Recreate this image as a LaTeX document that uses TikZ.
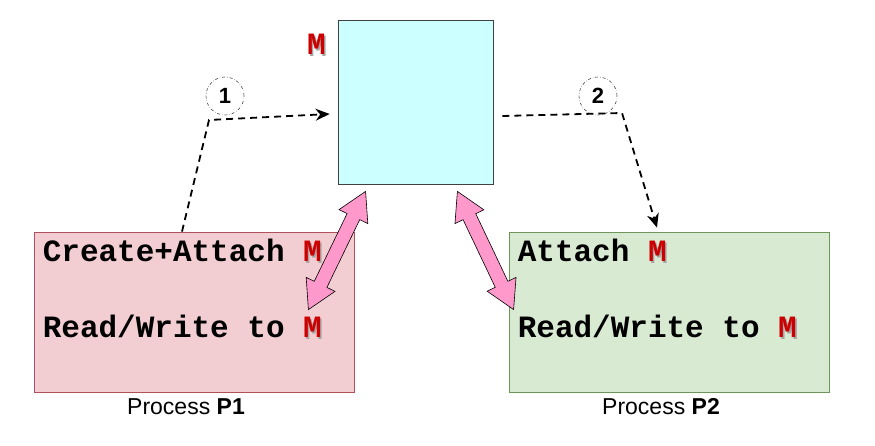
\documentclass[tikz,border=0pt]{standalone}
\usepackage{fontspec}
\setmonofont{Liberation Mono}
\setsansfont{Liberation Sans}
\usetikzlibrary{positioning,calc,arrows.meta}
\definecolor{shmfill}{RGB}{204,255,255}
\definecolor{ponefill}{RGB}{242,206,210}
\definecolor{poneline}{RGB}{176,80,90}
\definecolor{ptwofill}{RGB}{217,234,211}
\definecolor{ptwoline}{RGB}{110,150,90}
\definecolor{fatpink}{RGB}{255,153,204}
\definecolor{mred}{RGB}{204,0,0}
% red M with a grey drop shadow
\newcommand{\shmM}{\rlap{\kern1.5pt\raisebox{-1.5pt}{\textcolor{black!35}{M}}}\textcolor{mred}{M}}
% fat two-headed arrow between two named points
\newcommand{\fatarrow}[2]{%
  \filldraw[fatarrow] (#1) -- ($(#1)!28pt!(#2)!16pt!90:(#2)$) -- ($(#1)!28pt!(#2)!7pt!90:(#2)$)
    -- ($(#2)!28pt!(#1)!7pt!-90:(#1)$) -- ($(#2)!28pt!(#1)!16pt!-90:(#1)$) -- (#2)
    -- ($(#2)!28pt!(#1)!16pt!90:(#1)$) -- ($(#2)!28pt!(#1)!7pt!90:(#1)$)
    -- ($(#1)!28pt!(#2)!7pt!-90:(#2)$) -- ($(#1)!28pt!(#2)!16pt!-90:(#2)$) -- cycle;}
\begin{document}
\begin{tikzpicture}[x=1pt,y=-1pt]
	\tikzstyle{shmbox} = [draw=black!75, fill=shmfill, rectangle, minimum width=155pt, minimum height=164pt, line width=0.8pt]
	\tikzstyle{procbox} = [rectangle, minimum width=320pt, minimum height=160pt, line width=0.8pt]
	\tikzstyle{code} = [anchor=base west, inner sep=0pt, font=\ttfamily\bfseries\fontsize{31}{36}\selectfont]
	\tikzstyle{caption} = [inner sep=0pt, font=\sffamily\fontsize{23}{26}\selectfont]
	\tikzstyle{step num} = [draw=black!70, dash dot, circle, minimum size=38pt, inner sep=0pt, line width=0.6pt, font=\sffamily\bfseries\fontsize{22}{22}\selectfont]
	\tikzstyle{dasharrow} = [dashed, dash pattern=on 7pt off 5pt, line width=1.8pt, -{Stealth[length=14pt,width=12pt]}]
	\tikzstyle{fatarrow} = [fill=fatpink, draw=black, line width=0.6pt, line join=miter]

	\useasboundingbox (0,0) rectangle (875,446);

	\node[shmbox] (shm) at (415.5,102) {};
	\node[code] (shmname) at (307,55) {\shmM};

	\node[procbox, draw=poneline, fill=ponefill] (p1) at (194,312) {};
	\node[procbox, draw=ptwoline, fill=ptwofill] (p2) at (669,312) {};

	\node[code] (p1create) at ([shift={(9pt,-30pt)}]p1.north west) {Create+Attach \shmM};
	\node[code] (p1rw) at ([shift={(9pt,-106pt)}]p1.north west) {Read/Write to \shmM};
	\node[code] (p2attach) at ([shift={(9pt,-30pt)}]p2.north west) {Attach \shmM};
	\node[code] (p2rw) at ([shift={(9pt,-106pt)}]p2.north west) {Read/Write to \shmM};

	\node[caption, below=6pt of p1, xshift=-8pt] (p1cap) {Process \textbf{P1}};
	\node[caption, below=6pt of p2, xshift=-8pt] (p2cap) {Process \textbf{P2}};

	% numbered steps
	\node[step num] (s1) at (225,96) {1};
	\node[step num] (s2) at (598,96) {2};
	\coordinate (bend1) at (209,120);
	\coordinate (bend2) at (622,113);

	\draw[dasharrow] ([xshift=-12pt]p1.north) -- (bend1) -- ([shift={(-8pt,-12pt)}]shm.west);
	\draw[dasharrow] ([shift={(9pt,-14pt)}]shm.east) -- (bend2) -- ([shift={(-12pt,4pt)}]p2.north);

	% attach to the segment
	\coordinate (t1) at ([shift={(28pt,-7pt)}]shm.south west);
	\coordinate (b1) at ([shift={(-46pt,-78pt)}]p1.north east);
	\coordinate (t2) at ([shift={(-36pt,-7pt)}]shm.south east);
	\coordinate (b2) at ([shift={(5pt,-78pt)}]p2.north west);
	\fatarrow{t1}{b1}
	\fatarrow{t2}{b2}
\end{tikzpicture}
\end{document}
